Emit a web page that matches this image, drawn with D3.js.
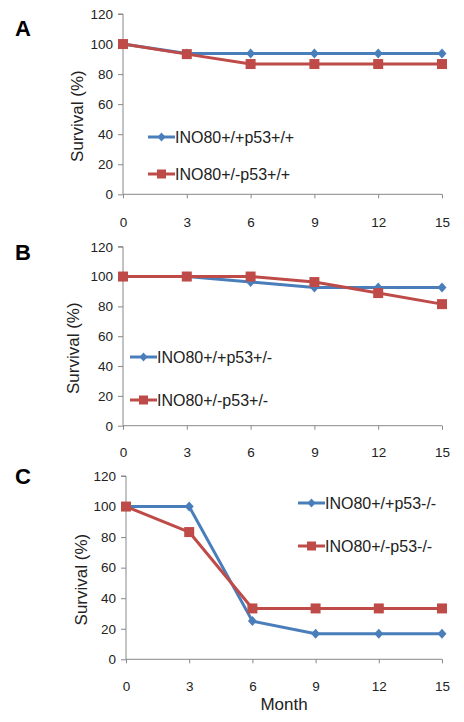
<!DOCTYPE html>
<html><head><meta charset="utf-8">
<script src="https://cdn.jsdelivr.net/npm/d3@7"></script>
<style>body{margin:0;background:#fff;}svg{display:block;}</style>
</head><body>
<svg id="c" width="464" height="722"></svg>
<script>
const months = [0, 3, 6, 9, 12, 15];
const yTicks = [0, 20, 40, 60, 80, 100, 120];
const panelLetters = ["A", "B", "C"];
const blueNames = ["INO80+/+p53+/+", "INO80+/+p53+/-", "INO80+/+p53-/-"];
const redNames = ["INO80+/-p53+/+", "INO80+/-p53+/-", "INO80+/-p53-/-"];
const blueA = [100, 93.75, 93.75, 93.75, 93.75, 93.75];
const redA = [100, 93.3, 86.7, 86.7, 86.7, 86.7];
const blueB = [100, 100, 96.3, 92.6, 92.6, 92.6];
const redB = [100, 100, 100, 96.3, 88.9, 81.5];
const blueC = [100, 100, 25, 16.7, 16.7, 16.7];
const redC = [100, 83.3, 33.3, 33.3, 33.3, 33.3];
const xLabel = "Month";
const yLabel = "Survival (%)";

const BLUE = "#4a7ebb", RED = "#be4b48";
const svg = d3.select("#c");
const font = "Arial, 'Liberation Sans', sans-serif";

const panels = [
  {letter: panelLetters[0], blue: blueA, red: redA, bn: blueNames[0], rn: redNames[0],
   x0: 123, x1: 442, yTop: 14, yBot: 194.3, letterY: 36, titleX: 77, tickLblY: 222,
   leg: {x: 148, y1: 137, y2: 174}},
  {letter: panelLetters[1], blue: blueB, red: redB, bn: blueNames[1], rn: redNames[1],
   x0: 123, x1: 442, yTop: 246.7, yBot: 425.7, letterY: 260, titleX: 73, tickLblY: 452,
   leg: {x: 130, y1: 357, y2: 400}},
  {letter: panelLetters[2], blue: blueC, red: redC, bn: blueNames[2], rn: redNames[2],
   x0: 126, x1: 442, yTop: 476, yBot: 659.3, letterY: 484, titleX: 81, tickLblY: 686,
   leg: {x: 298, y1: 503, y2: 546}, month: true}
];

panels.forEach(p => {
  const x = d3.scaleLinear().domain([0, 15]).range([p.x0, p.x1]);
  const y = d3.scaleLinear().domain([0, 120]).range([p.yBot, p.yTop]);
  const g = svg.append("g");

  // y axis
  const ya = g.append("g").attr("transform", `translate(${p.x0},0)`)
    .call(d3.axisLeft(y).tickValues(yTicks).tickSize(5).tickPadding(5));
  ya.select(".domain").attr("stroke", "#888").attr("d", `M-5,${p.yTop}H0V${p.yBot}`);
  ya.selectAll(".tick line").attr("stroke", "#888");
  ya.selectAll(".tick text").attr("font-family", font).attr("font-size", 13.5).attr("fill", "#222");

  // x axis
  const xa = g.append("g").attr("transform", `translate(0,${p.yBot})`)
    .call(d3.axisBottom(x).tickValues(months).tickSize(4).tickSizeOuter(0).tickFormat(d3.format("d")));
  xa.select(".domain").attr("stroke", "#888").attr("d", `M${p.x0},0H${p.x1}`);
  xa.selectAll(".tick line").attr("stroke", "#888");
  xa.selectAll(".tick text").attr("font-family", font).attr("font-size", 13.5).attr("fill", "#222")
    .attr("y", null).attr("dy", "0.35em")
    .attr("transform", `translate(0,${p.tickLblY - p.yBot})`);

  // y title
  g.append("text").attr("transform", `translate(${p.titleX},${(p.yTop + p.yBot) / 2 + 12}) rotate(-90)`)
    .attr("text-anchor", "middle").attr("dy", "0.35em")
    .attr("font-family", font).attr("font-size", 17).attr("fill", "#222").text(yLabel);

  // letter
  g.append("text").attr("x", 15).attr("y", p.letterY).attr("font-family", font)
    .attr("font-size", 22).attr("font-weight", "bold").attr("fill", "#000").text(p.letter);

  const line = d3.line().x((d, i) => x(months[i])).y(d => y(d));
  [[p.blue, BLUE], [p.red, RED]].forEach(([vals, col]) => {
    g.append("path").datum(vals).attr("d", line).attr("fill", "none")
      .attr("stroke", col).attr("stroke-width", 3).attr("stroke-linejoin", "round");
  });
  // markers
  [[p.blue, BLUE, "d"], [p.red, RED, "s"]].forEach(([vals, col, shape]) => {
    g.selectAll(null).data(vals).enter().append("path")
      .attr("transform", (d, i) => `translate(${x(months[i])},${y(d)})`)
      .attr("d", shape === "d" ? "M0,-5L4.5,0L0,5L-4.5,0Z" : "M-5,-5H5V5H-5Z")
      .attr("fill", col);
  });

  // legend
  [[p.bn, BLUE, "d", p.leg.y1], [p.rn, RED, "s", p.leg.y2]].forEach(([name, col, shape, ly]) => {
    g.append("line").attr("x1", p.leg.x).attr("x2", p.leg.x + 27).attr("y1", ly).attr("y2", ly)
      .attr("stroke", col).attr("stroke-width", 3);
    g.append("path").attr("transform", `translate(${p.leg.x + 13.5},${ly})`)
      .attr("d", shape === "d" ? "M0,-4.5L4,0L0,4.5L-4,0Z" : "M-4.5,-4.5H4.5V4.5H-4.5Z").attr("fill", col);
    g.append("text").attr("x", p.leg.x + 27).attr("y", ly).attr("dy", "0.36em")
      .attr("font-family", font).attr("font-size", 16).attr("fill", "#222").text(name);
  });

  if (p.month) {
    g.append("text").attr("x", (p.x0 + p.x1) / 2).attr("y", 704).attr("dy", "0.36em").attr("text-anchor", "middle")
      .attr("font-family", font).attr("font-size", 17).attr("fill", "#222").text(xLabel);
  }
});
</script>
</body></html>
